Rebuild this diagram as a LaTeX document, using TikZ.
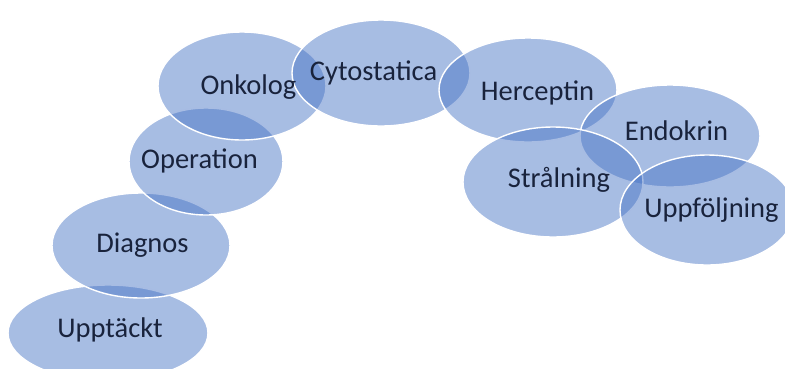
\documentclass[tikz,border=0pt]{standalone}
\usepackage{fontspec}
\setmainfont{Carlito}
\usetikzlibrary{shapes.geometric}
\definecolor{blobblue}{RGB}{68,114,196}
\definecolor{txtcol}{RGB}{25,35,60}
\begin{document}
\begin{tikzpicture}[x=1pt,y=-1pt,
  blob/.style={ellipse,inner sep=0pt,fill=blobblue,fill opacity=0.47,draw=white,line width=1.4pt},
  lbl/.style={anchor=base,inner sep=0pt,text=txtcol,font=\fontsize{28.5}{31}\selectfont}]
\useasboundingbox (0,0) rectangle (785,368);
\begin{scope}
\clip (0,0) rectangle (785,368);
\node[blob,minimum width=200pt,minimum height=96pt] (upp) at (108,333) {};
\node[blob,minimum width=178pt,minimum height=105pt] (dia) at (141,245.5) {};
\node[blob,minimum width=154pt,minimum height=107pt] (ope) at (206,161.5) {};
\node[blob,minimum width=168pt,minimum height=108pt] (onk) at (242,86) {};
\node[blob,minimum width=178pt,minimum height=106pt] (cyt) at (381,73) {};
\node[blob,minimum width=178pt,minimum height=104pt] (her) at (528,90) {};
\node[blob,minimum width=180pt,minimum height=102pt] (end) at (670,136) {};
\node[blob,minimum width=180pt,minimum height=110pt] (str) at (553,182) {};
\node[blob,minimum width=174pt,minimum height=110pt] (uf) at (707,210) {};
\end{scope}
\node[lbl] (tupp) at (110,337) {Upptäckt};
\node[lbl] (tdia) at (142.5,252) {Diagnos};
\node[lbl] (tope) at (199.5,168) {Operation};
\node[lbl] (tonk) at (248.5,94) {Onkolog};
\node[lbl] (tcyt) at (373.5,80) {Cytostatica};
\node[lbl] (ther) at (537.5,100) {Herceptin};
\node[lbl] (tend) at (676.5,140) {Endokrin};
\node[lbl] (tstr) at (559,187) {Strålning};
\node[lbl] (tuf) at (711.5,217) {Uppföljning};
\end{tikzpicture}
\end{document}
